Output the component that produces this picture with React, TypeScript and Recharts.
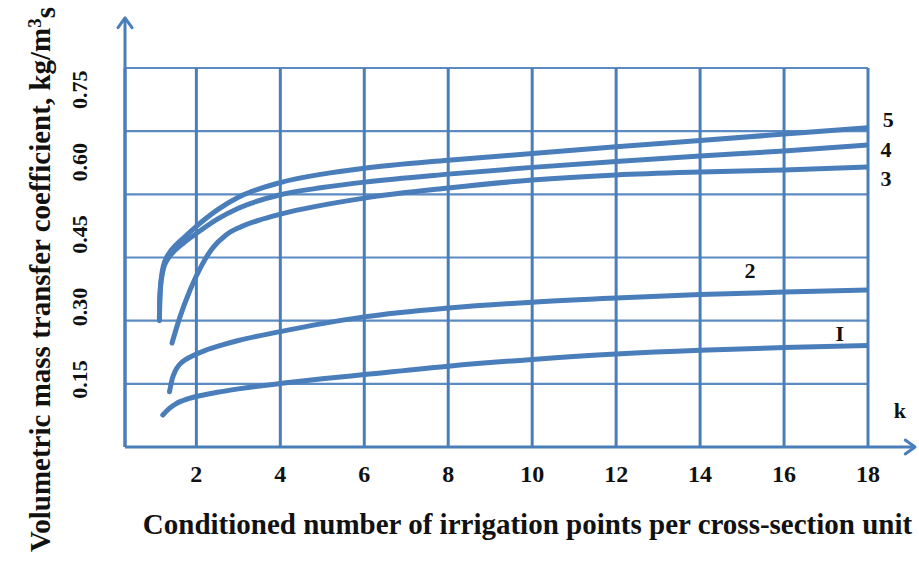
import React from 'react';
import { LineChart, Line, XAxis, YAxis, CartesianGrid, ReferenceLine, ReferenceDot } from 'recharts';

const BLUE = '#4a7ebb';
const INK = '#111111';
const FONT = '"Liberation Serif", "Times New Roman", serif';

// tick labels
const xTicks = [2, 4, 6, 8, 10, 12, 14, 16, 18];
const yTickLabels = [0.15, 0.3, 0.45, 0.6, 0.75];
const gridLevels = [0, 0.15, 0.3, 0.45, 0.6, 0.75, 0.9];

// curve 1
const k1 = [1.2, 1.35, 1.5, 1.7, 2, 2.5, 3, 4, 5, 6, 8, 10, 12, 14, 16, 18];
const v1 = [0.076, 0.091, 0.102, 0.111, 0.12, 0.13, 0.138, 0.151, 0.162, 0.172, 0.192, 0.208, 0.221, 0.23, 0.236, 0.241];
// curve 2
const k2 = [1.36, 1.42, 1.5, 1.6, 1.75, 1.9, 2.2, 2.6, 3, 4, 5, 6, 8, 10, 12, 14, 16, 18];
const v2 = [0.131, 0.16, 0.181, 0.196, 0.208, 0.216, 0.229, 0.242, 0.253, 0.274, 0.293, 0.309, 0.33, 0.344, 0.354, 0.362, 0.368, 0.373];
// curve 3
const k3 = [1.42, 1.61, 1.85, 2.13, 2.4, 2.7, 3.04, 3.5, 4, 6, 8, 10, 12, 14, 16, 18];
const v3 = [0.247, 0.309, 0.373, 0.432, 0.474, 0.503, 0.522, 0.539, 0.553, 0.591, 0.615, 0.634, 0.646, 0.653, 0.658, 0.665];
// curves 4 and 5
const k45 = [1.12, 1.125, 1.14, 1.17, 1.22, 1.3, 1.4, 1.7, 2, 2.5, 3, 4, 5, 6, 8, 10, 12, 14, 16, 18];
const v4 = [0.3, 0.335, 0.37, 0.4, 0.425, 0.443, 0.457, 0.485, 0.507, 0.541, 0.567, 0.599, 0.616, 0.629, 0.648, 0.664, 0.678, 0.691, 0.703, 0.717];
const v5 = [0.305, 0.34, 0.375, 0.405, 0.432, 0.452, 0.467, 0.497, 0.524, 0.563, 0.593, 0.628, 0.648, 0.662, 0.681, 0.697, 0.713, 0.728, 0.743, 0.758];

const toPoints = (ks: number[], vs: number[]) => ks.map((k, i) => ({ k, v: vs[i] }));

const curves = [
  { id: 'c1', data: toPoints(k1, v1) },
  { id: 'c2', data: toPoints(k2, v2) },
  { id: 'c3', data: toPoints(k3, v3) },
  { id: 'c4', data: toPoints(k45, v4) },
  { id: 'c5', data: toPoints(k45, v5) },
];

// curve numbers and axis letter, placed in data units
const notes = [
  { text: '5', k: 18.48, v: 0.779 },
  { text: '4', k: 18.43, v: 0.708 },
  { text: '3', k: 18.43, v: 0.639 },
  { text: '2', k: 15.19, v: 0.42 },
  { text: 'I', k: 17.33, v: 0.271 },
  { text: 'k', k: 18.76, v: 0.088 },
];

const Arrow = (props: any) => {
  const { x1, y1, x2, y2 } = props;
  const ang = Math.atan2(y2 - y1, x2 - x1);
  const len = 12;
  const spread = 0.62;
  const ax = x2 - len * Math.cos(ang - spread);
  const ay = y2 - len * Math.sin(ang - spread);
  const bx = x2 - len * Math.cos(ang + spread);
  const by = y2 - len * Math.sin(ang + spread);
  return (
    <g>
      <line x1={x1} y1={y1} x2={x2} y2={y2} stroke={BLUE} strokeWidth={3} />
      <polyline
        points={`${ax},${ay} ${x2},${y2} ${bx},${by}`}
        fill="none"
        stroke={BLUE}
        strokeWidth={3}
        strokeLinecap="round"
        strokeLinejoin="round"
      />
    </g>
  );
};

const XTick = ({ x, y, payload }: any) => (
  <text x={x} y={y} dy={35} textAnchor="middle" fontFamily={FONT} fontSize={24} fontWeight="bold" fill={INK}>
    {payload.value}
  </text>
);

const YTick = ({ x, y, payload }: any) => {
  const cx = x - 46;
  return (
    <text
      x={cx}
      y={y}
      dy="0.35em"
      transform={`rotate(-90 ${cx} ${y})`}
      textAnchor="middle"
      fontFamily={FONT}
      fontSize={22}
      fontWeight="bold"
      fill={INK}
    >
      {Number(payload.value).toFixed(2)}
    </text>
  );
};

const XTitle = ({ viewBox }: any) => (
  <text
    x={viewBox.x + viewBox.width / 2 + 31}
    y={viewBox.y + 87}
    textAnchor="middle"
    fontFamily={FONT}
    fontSize={29}
    fontWeight="bold"
    fill={INK}
  >
    Conditioned number of irrigation points per cross-section unit
  </text>
);

const YTitle = ({ viewBox }: any) => {
  const cx = viewBox.x - 30;
  const cy = viewBox.y + viewBox.height / 2 + 22;
  return (
    <text
      x={cx}
      y={cy}
      transform={`rotate(-90 ${cx} ${cy})`}
      textAnchor="middle"
      fontFamily={FONT}
      fontSize={29}
      fontWeight="bold"
      fill={INK}
    >
      <tspan>Volumetric mass transfer coefficient, kg/m</tspan>
      <tspan dy="-0.45em" fontSize={19}>3</tspan>
      <tspan dy="0.45em">s</tspan>
    </text>
  );
};

export default function App() {
  return (
    <div style={{ position: 'absolute', left: 0, top: 0, background: '#fff' }}>
      <LineChart width={919} height={568} margin={{ top: 68, right: 51, bottom: 91, left: 80 }}>
        <XAxis
          type="number"
          dataKey="k"
          domain={[0.3, 18]}
          ticks={xTicks}
          allowDataOverflow
          height={30}
          axisLine={false}
          tickLine={false}
          tickSize={0}
          tickMargin={0}
          tick={<XTick />}
          label={{ content: <XTitle /> } as any}
        />
        <YAxis yAxisId="v" type="number" dataKey="v" domain={[0, 0.9]} ticks={gridLevels} allowDataOverflow hide />
        <YAxis
          yAxisId="lab"
          type="number"
          domain={[0.01, 0.795]}
          ticks={yTickLabels}
          allowDataOverflow
          width={45}
          axisLine={false}
          tickLine={false}
          tickSize={0}
          tickMargin={0}
          tick={<YTick />}
          label={{ content: <YTitle /> } as any}
        />
        <CartesianGrid yAxisId="v" vertical={false} stroke={BLUE} strokeWidth={2.2} strokeOpacity={0.9} />
        <CartesianGrid yAxisId="v" horizontal={false} stroke={BLUE} strokeWidth={3} />
        {curves.map((c) => (
          <Line
            key={c.id}
            yAxisId="v"
            data={c.data}
            dataKey="v"
            type="monotone"
            stroke={BLUE}
            strokeWidth={5}
            strokeLinecap="round"
            dot={false}
            activeDot={false}
            isAnimationActive={false}
          />
        ))}
        <ReferenceLine
          yAxisId="v"
          segment={[{ x: 0.3, y: 0 }, { x: 0.3, y: 1.019 }]}
          ifOverflow="visible"
          shape={<Arrow />}
        />
        <ReferenceLine
          yAxisId="v"
          segment={[{ x: 0.3, y: 0 }, { x: 19.12, y: 0 }]}
          ifOverflow="visible"
          shape={<Arrow />}
        />
        {notes.map((n) => (
          <ReferenceDot
            key={n.text}
            yAxisId="v"
            x={n.k}
            y={n.v}
            r={0}
            fill="none"
            stroke="none"
            ifOverflow="visible"
            label={{ value: n.text, position: 'center', fill: INK, fontSize: 22, fontWeight: 'bold', fontFamily: FONT }}
          />
        ))}
      </LineChart>
    </div>
  );
}
